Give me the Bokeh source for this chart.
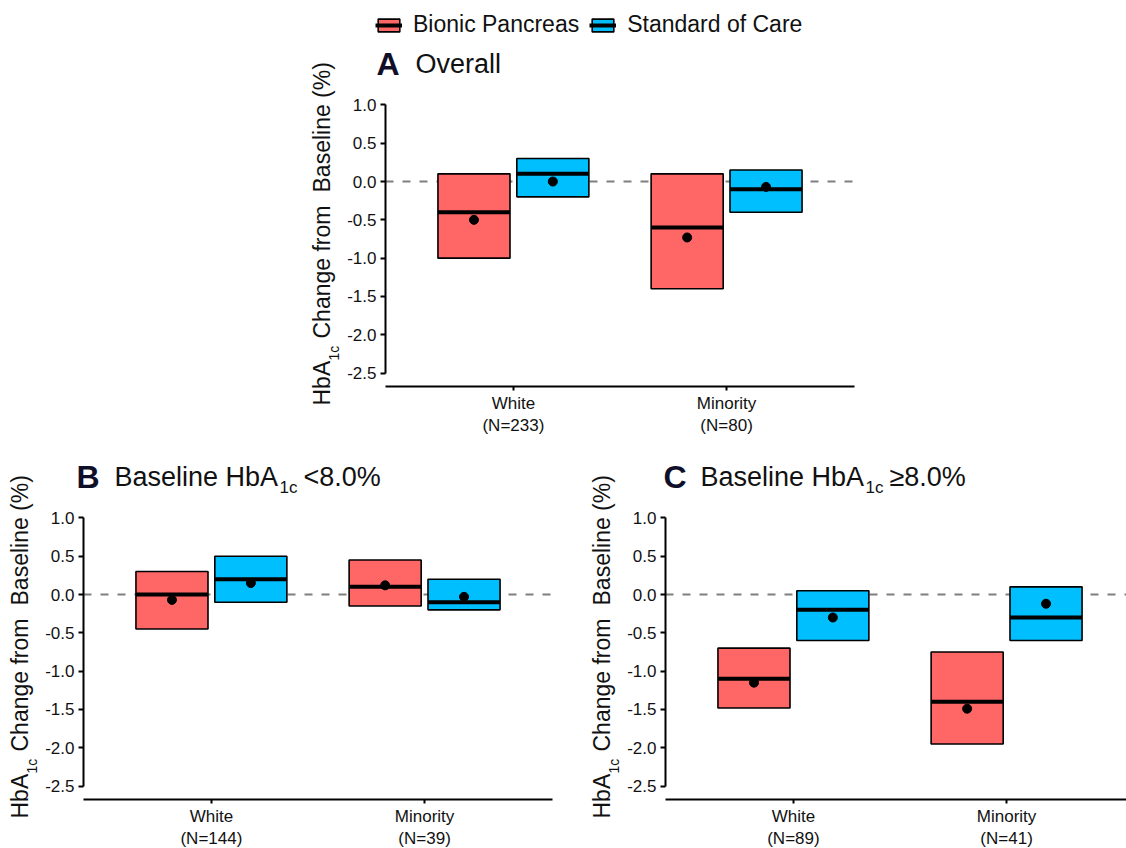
import math
from bokeh.plotting import figure
from bokeh.models import (ColumnDataSource, Range1d, FixedTicker, Label,
                          Legend, LegendItem)
from bokeh.layouts import column, row
from bokeh.transform import dodge
from bokeh.embed import file_html
from bokeh.resources import INLINE

# ---------------- data ----------------
categories = ["White", "Minority"]
treatments = ["Bionic Pancreas", "Standard of Care"]

n_overall = [233, 80]
n_low = [144, 39]
n_high = [89, 41]

# Panel A: Overall
a_bp_lower = [-1.0, -1.4]
a_bp_median = [-0.4, -0.6]
a_bp_upper = [0.1, 0.1]
a_bp_mean = [-0.5, -0.73]
a_soc_lower = [-0.2, -0.4]
a_soc_median = [0.1, -0.1]
a_soc_upper = [0.3, 0.15]
a_soc_mean = [0.0, -0.07]

# Panel B: Baseline HbA1c < 8.0%
b_bp_lower = [-0.45, -0.15]
b_bp_median = [0.0, 0.1]
b_bp_upper = [0.3, 0.45]
b_bp_mean = [-0.07, 0.12]
b_soc_lower = [-0.1, -0.2]
b_soc_median = [0.2, -0.1]
b_soc_upper = [0.5, 0.2]
b_soc_mean = [0.15, -0.03]

# Panel C: Baseline HbA1c >= 8.0%
c_bp_lower = [-1.48, -1.95]
c_bp_median = [-1.1, -1.4]
c_bp_upper = [-0.7, -0.75]
c_bp_mean = [-1.15, -1.49]
c_soc_lower = [-0.6, -0.6]
c_soc_median = [-0.2, -0.3]
c_soc_upper = [0.05, 0.1]
c_soc_mean = [-0.3, -0.12]

y_ticks = [-2.5, -2.0, -1.5, -1.0, -0.5, 0.0, 0.5, 1.0]
y_tick_labels = ["-2.5", "-2.0", "-1.5", "-1.0", "-0.5", "0.0", "0.5", "1.0"]
reference_value = 0.0

# ---------------- style / geometry ----------------
FONT = "Liberation Sans"
TXT = "#111111"
COLORS = {"Bionic Pancreas": "#FF6666", "Standard of Care": "#00BFFF"}
BOX_W = 0.338
DODGE = 0.185
X_LIMITS = (0.4, 2.6)          # panel x limits (discrete scale expansion)
Y_LIMITS = (-2.675, 1.175)     # panel y limits
PX_X = 469 / (X_LIMITS[1] - X_LIMITS[0])   # pixels per x unit
PX_Y = 295 / (Y_LIMITS[1] - Y_LIMITS[0])   # pixels per y unit


def build_panel(width, height, ax, ay, n_values, series,
                letter, letter_dx, title_main, text_dx, sub=None, tail=None):
    """ax, ay: pixel position of the axes origin inside this canvas (from top-left)."""
    x_lo = X_LIMITS[0] - ax / PX_X
    x_hi = x_lo + width / PX_X
    y_hi = Y_LIMITS[0] + ay / PX_Y
    y_lo = Y_LIMITS[0] - (height - ay) / PX_Y
    p = figure(width=width, height=height,
               x_range=Range1d(x_lo, x_hi), y_range=Range1d(y_lo, y_hi),
               output_backend="svg", toolbar_location=None, min_border=0)
    p.title.visible = False
    p.outline_line_color = None
    p.xgrid.visible = False
    p.ygrid.visible = False
    p.background_fill_color = "white"
    p.border_fill_color = "white"

    xs = [i + 1 for i in range(len(categories))]

    # dashed reference line at 0 across the panel
    p.segment(x0=[X_LIMITS[0]], x1=[X_LIMITS[1]], y0=[reference_value], y1=[reference_value],
              line_color="#7f7f7f", line_width=2, line_dash="8 9")

    rends = {}
    for name, off in zip(treatments, [-DODGE, DODGE]):
        lo, med, up, mean = series[name]
        src = ColumnDataSource(dict(x=xs, lower=lo, median=med, upper=up, mean=mean))
        box = p.vbar(x=dodge("x", off), width=BOX_W, bottom="lower", top="upper",
                     source=src, fill_color=COLORS[name], line_color="black",
                     line_width=1.6)
        mid = p.segment(x0=dodge("x", off - BOX_W / 2), x1=dodge("x", off + BOX_W / 2),
                        y0="median", y1="median", source=src,
                        line_color="black", line_width=4)
        p.scatter(x=dodge("x", off), y="mean", source=src, size=9,
                  fill_color="black", line_color="black")
        rends[name] = [box, mid]

    # y axis (capped at the tick range, fixed at the panel's left limit)
    yax = p.yaxis[0]
    yax.fixed_location = X_LIMITS[0]
    yax.ticker = FixedTicker(ticks=y_ticks, minor_ticks=[])
    yax.major_label_overrides = {t: s for t, s in zip(y_ticks, y_tick_labels)}
    yax.bounds = (min(y_ticks), max(y_ticks))
    yax.axis_line_width = 2
    yax.axis_line_color = "black"
    yax.major_tick_line_width = 2
    yax.major_tick_line_color = "black"
    yax.major_tick_out = 5
    yax.major_tick_in = 0
    yax.major_label_standoff = 4
    yax.major_label_text_font = FONT
    yax.major_label_text_font_size = "17px"
    yax.major_label_text_color = TXT

    # x axis (fixed at the panel's lower limit)
    xax = p.xaxis[0]
    xax.fixed_location = Y_LIMITS[0]
    xax.bounds = X_LIMITS
    xax.ticker = FixedTicker(ticks=xs, minor_ticks=[])
    xax.major_label_overrides = {x: f"{c}\n(N={n})" for x, c, n in zip(xs, categories, n_values)}
    xax.axis_line_width = 2
    xax.axis_line_color = "black"
    xax.major_tick_line_width = 2
    xax.major_tick_line_color = "black"
    xax.major_tick_out = 4
    xax.major_tick_in = 0
    xax.major_label_standoff = 3
    xax.major_label_text_font = FONT
    xax.major_label_text_font_size = "17px"
    xax.major_label_text_color = TXT

    ox = ax                 # origin x in screen units (from left)
    oy = height - ay        # origin y in screen units (from bottom)

    def lab(dx, dy, text, size, bold=False, color=TXT, angle=0.0):
        p.add_layout(Label(x=ox + dx, y=oy + dy, x_units="screen", y_units="screen",
                           text=text, text_font=FONT,
                           text_font_style="bold" if bold else "normal",
                           text_font_size=size, text_color=color, angle=angle,
                           text_baseline="alphabetic", text_align="left"))

    # panel title
    ty = 323
    lab(letter_dx, ty, letter, "32px", bold=True, color="#0f0f2a")
    lab(text_dx, ty, title_main, "27px")
    if sub is not None:
        lab(text_dx + 165, ty - 11, sub, "17px")
        lab(text_dx + 189, ty, tail, "27px")

    # y-axis title with subscript
    ang = math.pi / 2
    lx = -63.5
    lab(lx, -19, "HbA", "23px", angle=ang)
    lab(lx + 12, 26, "1c", "14px", angle=ang)
    lab(lx, 48, "Change from", "23px", angle=ang)
    lab(lx, 194, "Baseline (%)", "23px", angle=ang)
    return p, rends


series_a = {"Bionic Pancreas": (a_bp_lower, a_bp_median, a_bp_upper, a_bp_mean),
            "Standard of Care": (a_soc_lower, a_soc_median, a_soc_upper, a_soc_mean)}
series_b = {"Bionic Pancreas": (b_bp_lower, b_bp_median, b_bp_upper, b_bp_mean),
            "Standard of Care": (b_soc_lower, b_soc_median, b_soc_upper, b_soc_mean)}
series_c = {"Bionic Pancreas": (c_bp_lower, c_bp_median, c_bp_upper, c_bp_mean),
            "Standard of Care": (c_soc_lower, c_soc_median, c_soc_upper, c_soc_mean)}

TOP_H = 438
BOT_H = 848 - TOP_H
pA, rA = build_panel(1126, TOP_H, 385, 386, n_overall, series_a,
                     "A", -9, "Overall", 30)
pB, _ = build_panel(580, BOT_H, 83, 361, n_low, series_b,
                    "B", -7, "Baseline HbA", 31, "1c", "<8.0%")
pC, _ = build_panel(546, BOT_H, 85, 361, n_high, series_c,
                    "C", -2, "Baseline HbA", 35, "1c", "\u22658.0%")

legend = Legend(items=[LegendItem(label=t, renderers=rA[t]) for t in treatments],
                orientation="horizontal", location=(375, TOP_H - 38),
                label_text_font=FONT, label_text_font_size="23px",
                label_text_color=TXT, glyph_width=27, glyph_height=16,
                label_standoff=11, spacing=10, padding=0, margin=0,
                border_line_color=None, background_fill_alpha=0)
pA.add_layout(legend)

layout = column(pA, row(pB, pC))
open("out.html", "w").write(file_html(layout, INLINE, title="HbA1c change"))
